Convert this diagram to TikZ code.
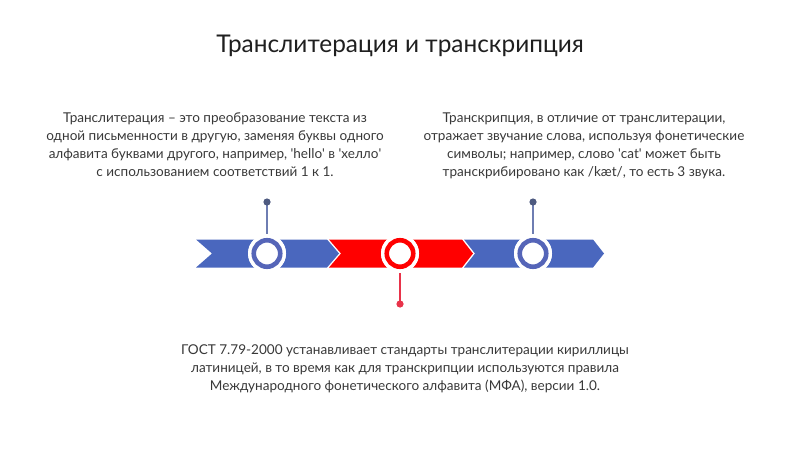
\documentclass[tikz,border=0pt]{standalone}
\usepackage{fontspec}
\setmainfont{Lato}
\newcommand{\sq}{\textquotesingle}
\begin{document}
\begin{tikzpicture}[x=1pt,y=-1pt,
  body/.style={align=center,text=black!78,font=\fontsize{13.55}{18}\selectfont,inner sep=0pt},
  stem/.style={line width=1.3pt},
  halo/.style={circle,fill=white,minimum size=38pt,inner sep=0pt},
  ring/.style={circle,line width=4.6pt,fill=white,minimum size=26.5pt,inner sep=0pt}
]
\useasboundingbox (0,0) rectangle (800,449);
\definecolor{segblue}{HTML}{4A67BE}
\definecolor{ringblue}{HTML}{5565B8}
\definecolor{stemblue}{HTML}{6E7DB2}
\definecolor{dotblue}{HTML}{4E5A80}
\definecolor{segred}{HTML}{FF0000}
\definecolor{stemred}{HTML}{E8334A}

\node[font=\fontsize{24.4}{28}\selectfont,text=black!88,inner sep=0pt] (title) at (400,46) {Транслитерация и транскрипция};

% chevrons
\fill[segblue] (196,239.5) -- (327,239.5) -- (339,253.5) -- (327,267.5) -- (196,267.5) -- (212,253.5) -- cycle;
\fill[segred] (329,239.5) -- (462,239.5) -- (473,253.5) -- (462,267.5) -- (329,267.5) -- (341,253.5) -- cycle;
\fill[segblue] (464,239.5) -- (593,239.5) -- (604,253.5) -- (593,267.5) -- (464,267.5) -- (475,253.5) -- cycle;

% stems and dots
\coordinate (d1) at (267,202);
\coordinate (d2) at (400,304);
\coordinate (d3) at (533,202);
\node[halo] (w1) at (267,253.5) {};
\node[halo] (w2) at (400,253.5) {};
\node[halo] (w3) at (533,253.5) {};
\draw[stem,stemblue] (d1) -- (w1.north);
\draw[stem,stemblue] (d3) -- (w3.north);
\draw[stem,stemred] (d2) -- (w2.south);
\fill[dotblue] (d1) circle (3.6);
\fill[dotblue] (d3) circle (3.6);
\fill[stemred] (d2) circle (3.6);
\fill[white] (w1) circle (19);
\fill[white] (w2) circle (19);
\fill[white] (w3) circle (19);
\node[ring,draw=ringblue] (c1) at (w1) {};
\node[ring,draw=segred] (c2) at (w2) {};
\node[ring,draw=ringblue] (c3) at (w3) {};

\node[body,anchor=north] (t1) at (215,112.5) {Транслитерация – это преобразование текста из\\одной письменности в другую, заменяя буквы одного\\алфавита буквами другого, например, \sq hello\sq{} в \sq хелло\sq\\с использованием соответствий 1 к 1.};
\node[body,anchor=north] (t2) at (584,112.5) {Транскрипция, в отличие от транслитерации,\\отражает звучание слова, используя фонетические\\символы; например, слово \sq cat\sq{} может быть\\транскрибировано как /kæt/, то есть 3 звука.};
\node[body,anchor=north] (t3) at (405,344.5) {ГОСТ 7.79-2000 устанавливает стандарты транслитерации кириллицы\\латиницей, в то время как для транскрипции используются правила\\Международного фонетического алфавита (МФА), версии 1.0.};
\end{tikzpicture}
\end{document}
